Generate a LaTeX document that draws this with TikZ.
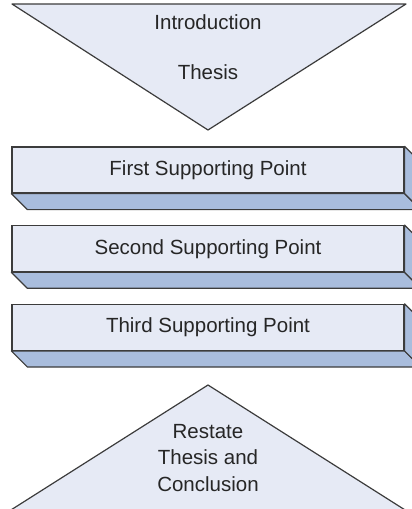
\documentclass[tikz,border=0pt]{standalone}
\usepackage{fontspec}
\setmainfont{Liberation Sans}
\usetikzlibrary{positioning}

\definecolor{facefill}{HTML}{E6EAF5}
\definecolor{bevelfill}{HTML}{A9BDDD}
\definecolor{edgeline}{HTML}{3C3C3C}
\definecolor{labeltext}{HTML}{262626}

\tikzset{
	label text/.style={text=labeltext, font=\fontsize{20.5}{26.5}\selectfont, align=center},
	pointbox/.style={label text, draw=edgeline, fill=facefill, line width=1.2pt, minimum width=392pt, minimum height=46pt, inner sep=0pt},
	bevel/.style={draw=edgeline, fill=bevelfill, line width=1.2pt, line join=round},
	funnel/.style={draw=edgeline, fill=facefill, line width=1.2pt, line join=round},
}

\begin{document}
\begin{tikzpicture}[x=1pt, y=-1pt, node distance=31.5pt]
		\clip (0,0) rectangle (412,509);

		% opening funnel
		\coordinate (in1) at (12,4);
		\coordinate (in2) at (406,4);
		\coordinate (in3) at (208,130);
		\draw[funnel] (in1) -- (in2) -- (in3) -- cycle;
		\node[label text] (intro) at (208,22) {Introduction};
		\node[label text] (thesis) at (208,72) {Thesis};

		% supporting points
		\node[pointbox] (p1) at (208,170) {First Supporting Point};
		\node[pointbox, below = of p1] (p2) {Second Supporting Point};
		\node[pointbox, below = of p2] (p3) {Third Supporting Point};

		\foreach \p in {p1,p2,p3} {
			\draw[bevel] (\p.south west) -- ([shift={(16,16)}]\p.south west)
				-- ([shift={(16,16)}]\p.south east) -- (\p.south east) -- cycle;
			\draw[bevel] (\p.north east) -- ([shift={(16,16)}]\p.north east)
				-- ([shift={(16,16)}]\p.south east) -- (\p.south east) -- cycle;
		}

		% closing funnel, base runs off the page
		\coordinate (out1) at (208,385);
		\coordinate (out2) at (413,515);
		\coordinate (out3) at (3,515);
		\draw[funnel] (out1) -- (out2) -- (out3) -- cycle;
		\node[label text] (restate) at (208,458) {Restate\\Thesis and\\Conclusion};

	\end{tikzpicture}
\end{document}
